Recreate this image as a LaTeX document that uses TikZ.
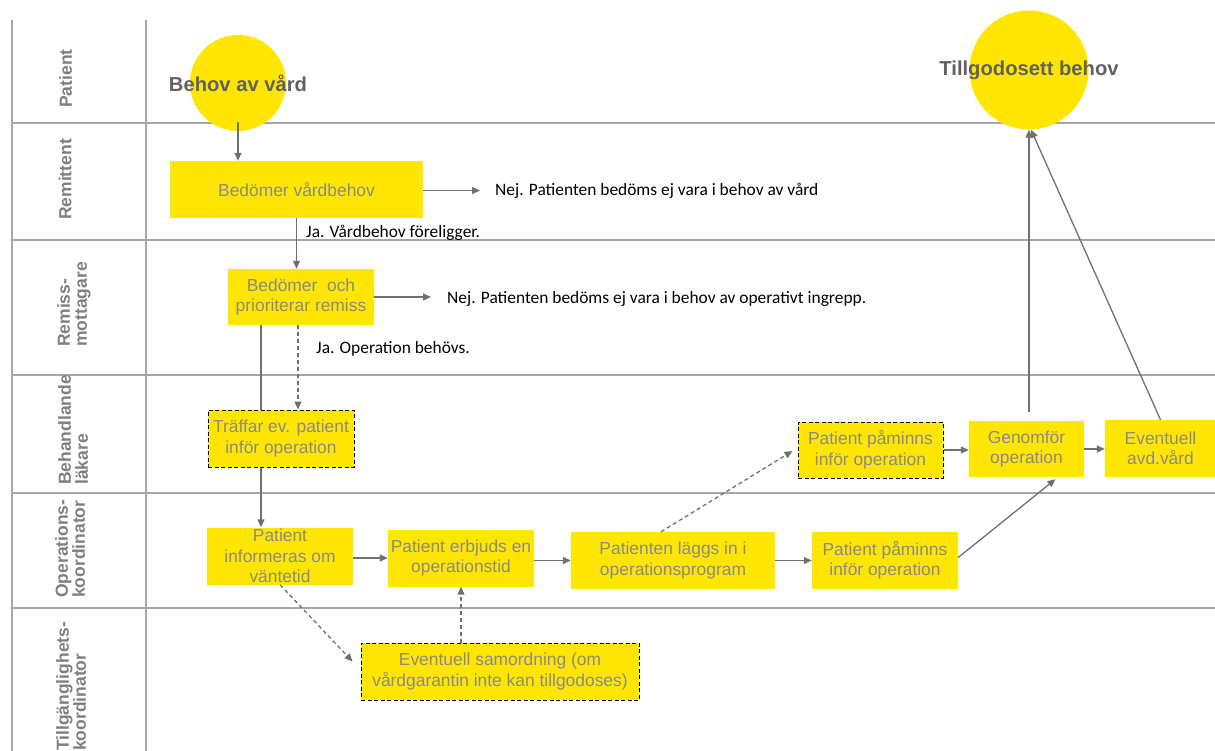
\documentclass[tikz,border=0pt]{standalone}
\usepackage{fontspec}
\setmainfont{Liberation Sans}
\newfontfamily\calib{Carlito}
\usetikzlibrary{arrows.meta,calc}
\definecolor{ylw}{HTML}{FFE600}
\definecolor{boxtxt}{HTML}{8A8A8A}
\definecolor{lanec}{HTML}{A6A6A6}
\definecolor{arrc}{HTML}{707070}
\definecolor{circtxt}{HTML}{616161}
\definecolor{lanetxt}{HTML}{7F7F7F}
\begin{document}
\begin{tikzpicture}[x=1pt,y=-1pt,
 lane/.style={draw=lanec,line width=1.5pt},
 box/.style={fill=ylw,inner sep=0pt,align=center,text=boxtxt,font=\fontsize{17.4}{20.5}\selectfont,minimum height=57pt},
 dbox/.style={box,draw=black,line width=1pt,dash pattern=on 4pt off 2.5pt},
 plain/.style={draw=arrc,line width=1.3pt},
 flow/.style={plain,-{Triangle[length=8pt,width=7pt]}},
 dflow/.style={flow,dash pattern=on 4pt off 3pt},
 note/.style={font=\calib\fontsize{17.4}{20}\selectfont,anchor=west,inner sep=0pt},
 lanelab/.style={rotate=90,anchor=west,align=left,inner sep=0pt,text=lanetxt,font=\bfseries\fontsize{17.5}{17}\selectfont},
 circ/.style={circle,fill=ylw,inner sep=0pt},
 ctext/.style={font=\bfseries\fontsize{20.2}{24}\selectfont,text=circtxt,inner sep=0pt}
]
\useasboundingbox (0,0) rectangle (1215,751);
% swimlane grid
\coordinate (g1) at (12,20);
\coordinate (g2) at (12,751);
\coordinate (g3) at (146,20);
\coordinate (g4) at (146,751);
\draw[lane] (g1) -- (g2);
\draw[lane] (g3) -- (g4);
\foreach \yy in {123,240,375,493,608}{
  \draw[lane] (12,\yy) -- (1215,\yy);
}
% lane labels
\node[lanelab] (l1) at (65.5,108) {Patient};
\node[lanelab] (l2) at (65,220) {Remittent};
\node[lanelab] (l3) at (74,347) {Remiss-\\mottagare};
\node[lanelab] (l4) at (73,485) {Behandlande\\läkare};
\node[lanelab] (l5) at (70,598) {Operations-\\koordinator};
\node[lanelab] (l6) at (71,751) {Tillgänglighets-\\koordinator};
% circles
\node[circ,minimum size=96pt] (c1) at (238,83) {};
\node[ctext] (t1) at (c1.center) {Behov av vård};
\node[circ,minimum size=119pt] (c2) at (1029,70) {};
\node[ctext] (t2) at (c2.center) {Tillgodosett behov};
% boxes
\node[box,minimum width=253pt] (b1) at (296.5,189.5) {Bedömer vårdbehov};
\node[box,minimum width=146pt,minimum height=56pt] (b2) at (301,297) {Bedömer~ och\\prioriterar remiss};
\node[dbox,minimum width=146pt] (b3) at (281,438.5) {Träffar ev. patient\\inför operation};
\node[box,minimum width=146pt] (b4) at (280,556) {Patient\\informeras om\\väntetid};
\node[box,minimum width=146pt] (b5) at (461,558) {Patient erbjuds en\\operationstid};
\node[box,minimum width=204pt] (b6) at (673,560.5) {Patienten läggs in i\\operationsprogram};
\node[box,minimum width=146pt] (b7) at (885,560.5) {Patient påminns\\inför operation};
\node[dbox,minimum width=145pt,minimum height=56pt] (b8) at (870.5,450) {Patient påminns\\inför operation};
\node[box,minimum width=115pt,minimum height=56pt] (b9) at (1026.5,449) {Genomför\\operation};
\node[box,minimum width=111pt] (b10) at (1160.5,448.5) {Eventuell\\avd.vård};
\node[dbox,minimum width=278pt] (b11) at (500,671.5) {Eventuell samordning (om\\vårdgarantin inte kan tillgodoses)};
% notes
\node[note] (n1) at (495,190.5) {Nej. Patienten bedöms ej vara i behov av vård};
\node[note] (n2) at (447,299) {Nej. Patienten bedöms ej vara i behov av operativt ingrepp.};
\node[note] (j1) at (306,233) {Ja. Vårdbehov föreligger.};
\node[note] (j2) at (316,349) {Ja. Operation behövs.};
% connectors
\draw[flow] ([yshift=9pt]c1.south) -- (c1.south |- b1.north);
\draw[flow] (b1.east |- n1.west) -- ([xshift=-15pt]n1.west);
\draw[flow] (b1.south) -- (b1.south |- b2.north);
\draw[flow] (b2.east) -- ([xshift=-16pt]n2.west |- b2.east);
\draw[plain] ([xshift=-40pt]b2.south) -- ([xshift=-20pt]b3.north);
\draw[flow] ([xshift=-20pt]b3.south) -- ([xshift=-19pt]b4.north);
\draw[dflow] ([xshift=-3pt]b2.south) -- ([xshift=17pt]b3.north);
\draw[flow] (b4.east |- b5.west) -- (b5.west);
\draw[flow] (b5.east |- b6.west) -- (b6.west);
\draw[flow] (b6.east) -- (b7.west);
\draw[dflow] ([xshift=-12pt]b6.north) -- ([xshift=-5pt,yshift=-1pt]b8.west);
\draw[flow] (b8.east) -- (b8.east -| b9.west);
\draw[flow] (b9.east) -- (b9.east -| b10.west);
\draw[flow] ($(c2.south |- b9.north)+(0,-9)$) -- (c2.south);
\draw[flow] (b10.north) -- ([xshift=2pt]c2.south);
\draw[flow] ([yshift=3pt]b7.east) -- ([xshift=29pt,yshift=-2pt]b9.south);
\draw[dflow] (b4.south) -- ([xshift=-8pt,yshift=10pt]b11.west);
\draw[dflow] (b5.south |- b11.north) -- (b5.south);
\end{tikzpicture}
\end{document}
